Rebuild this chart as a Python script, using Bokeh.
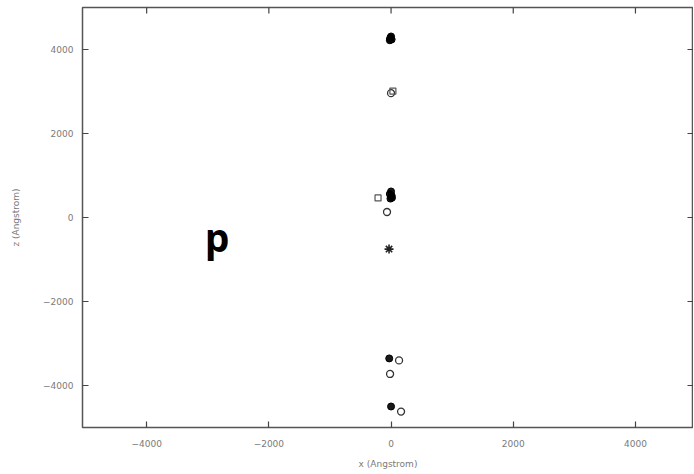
import math
from bokeh.plotting import figure
from bokeh.models import Range1d, FixedTicker, Label
from bokeh.embed import file_html
from bokeh.resources import INLINE

# ---- data (x, z in Angstrom) ----
filled_x = [-20, 0, -10, 10, -15, -10, 10, 0, -20, 15, -30, 0]
filled_z = [4220, 4310, 4280, 4240, 4255, 450, 520, 620, 560, 470, -3355, -4500]
open_circle_x = [0, -66, 131, -16, 164]
open_circle_z = [2960, 131, -3403, -3725, -4621]
open_square_x = [-213, 30]
open_square_z = [466, 3010]
star_x = [-33]
star_z = [-752]
ticks = [-4000, -2000, 0, 2000, 4000]

X0, X1 = -5050, 4950
Z0, Z1 = -5000, 5000

p = figure(width=693, height=471, output_backend="svg", toolbar_location=None,
           x_range=Range1d(X0, X1), y_range=Range1d(Z0, Z1),
           min_border_left=82, min_border_right=0, min_border_top=7, min_border_bottom=10,
           x_axis_label="x (Angstrom)", y_axis_label="z (Angstrom)")
p.grid.visible = False
p.outline_line_color = "#555555"
p.outline_line_width = 1.5
p.background_fill_color = "white"
p.border_fill_color = "white"

for ax in list(p.xaxis) + list(p.yaxis):
    ax.ticker = FixedTicker(ticks=ticks)
    ax.axis_line_color = None
    ax.major_tick_in = 6
    ax.major_tick_out = 0
    ax.major_tick_line_color = "#444444"
    ax.major_tick_line_width = 1.2
    ax.minor_tick_line_color = None
    ax.major_label_text_font = "DejaVu Sans"
    ax.major_label_text_font_size = "9px"
    ax.major_label_text_color = "#7a7a7a"
    ax.axis_label_text_font = "DejaVu Sans"
    ax.axis_label_text_font_size = "9px"
    ax.axis_label_text_font_style = "normal"
    ax.axis_label_text_color = "#7a7a7a"
p.yaxis.major_label_standoff = 9
p.yaxis.axis_label_standoff = 19
p.xaxis.major_label_standoff = 12
p.xaxis.axis_label_standoff = 9

# mirrored inward ticks on top and right edges (dash markers, clipped to frame)
p.scatter(ticks, [Z1] * len(ticks), marker="dash", angle=math.pi / 2, size=12,
          line_color="#444444", line_width=1.2)
p.scatter([X1] * len(ticks), ticks, marker="dash", size=12,
          line_color="#444444", line_width=1.2)

p.scatter(filled_x, filled_z, marker="circle", size=7, fill_color="black",
          line_color="black", fill_alpha=0.9)
p.scatter(open_circle_x, open_circle_z, marker="circle", size=7, fill_color=None,
          line_color="#333333", line_width=1.3)
p.scatter(open_square_x, open_square_z, marker="square", size=6, fill_color=None,
          line_color="#555555", line_width=1.2)
p.scatter(star_x, star_z, marker="asterisk", size=9, line_color="#222222", line_width=1.6)

p.add_layout(Label(x=-3050, y=-450, text="p", text_font="Open Sans",
                   text_font_size="39px", text_font_style="bold",
                   text_color="black", text_baseline="alphabetic"))

open("out.html", "w").write(file_html(p, INLINE))
